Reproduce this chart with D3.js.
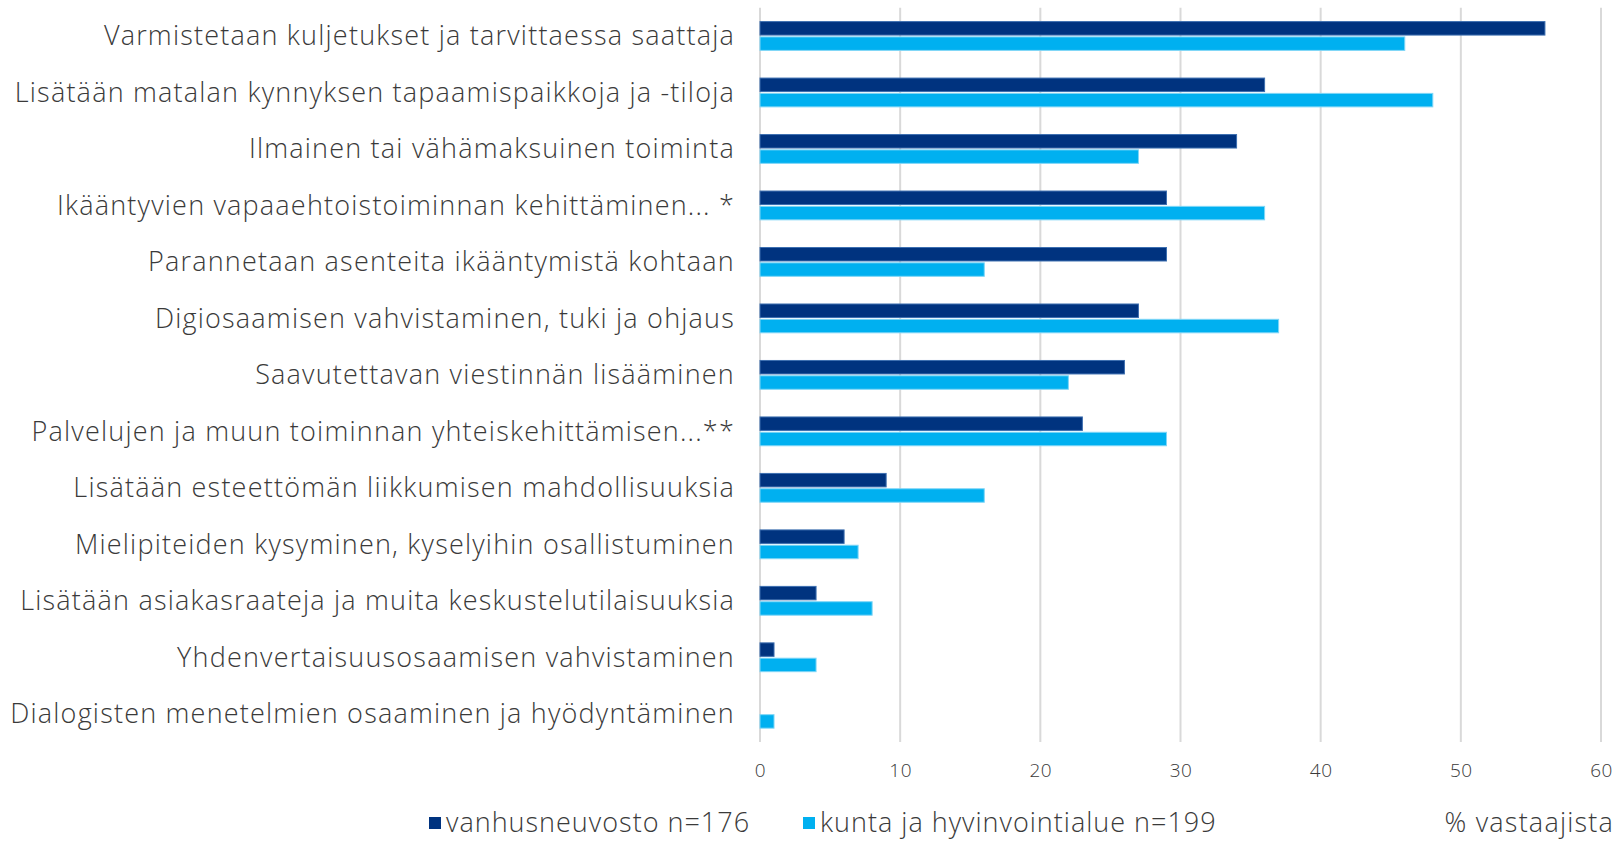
<!DOCTYPE html>
<html>
<head>
<meta charset="utf-8">
<script src="https://cdn.jsdelivr.net/npm/d3@7"></script>
<style>
  body { margin: 0; background: #fff; }
  svg text { font-family: "Open Sans", sans-serif; font-weight: 300; fill: #3a3a3a; }
</style>
</head>
<body>
<svg width="1616" height="842"></svg>
<script>
// kategoriat ylhäältä alas
var categories = [
  "Varmistetaan kuljetukset ja tarvittaessa saattaja",
  "Lisätään matalan kynnyksen tapaamispaikkoja ja -tiloja",
  "Ilmainen tai vähämaksuinen toiminta",
  "Ikääntyvien vapaaehtoistoiminnan kehittäminen... *",
  "Parannetaan asenteita ikääntymistä kohtaan",
  "Digiosaamisen vahvistaminen, tuki ja ohjaus",
  "Saavutettavan viestinnän lisääminen",
  "Palvelujen ja muun toiminnan yhteiskehittämisen...**",
  "Lisätään esteettömän liikkumisen mahdollisuuksia",
  "Mielipiteiden kysyminen, kyselyihin osallistuminen",
  "Lisätään asiakasraateja ja muita keskustelutilaisuuksia",
  "Yhdenvertaisuusosaamisen vahvistaminen",
  "Dialogisten menetelmien osaaminen ja hyödyntäminen"
];
var vanhusneuvosto = [56, 36, 34, 29, 29, 27, 26, 23, 9, 6, 4, 1, 0];
var kunta = [46, 48, 27, 36, 16, 37, 22, 29, 16, 7, 8, 4, 1];
var seriesNames = ["vanhusneuvosto n=176", "kunta ja hyvinvointialue n=199"];
var xTicks = [0, 10, 20, 30, 40, 50, 60];

var colors = ["#00337f", "#00b0f0"];
var strokes = ["#3d6fb0", "#7fd6f7"];

var svg = d3.select("svg");

var x = d3.scaleLinear().domain([0, 60]).range([760, 1601]);
var y = d3.scaleBand().domain(categories).range([7.75, 742])
    .paddingInner(0.49).paddingOuter(0.245);
var ySub = d3.scaleBand().domain([0, 1]).range([0, y.bandwidth()]).paddingInner(0.12);

// gridlines
svg.append("g")
    .selectAll("line")
    .data(xTicks)
    .enter().append("line")
    .attr("x1", d => x(d)).attr("x2", d => x(d))
    .attr("y1", 7.75).attr("y2", 742)
    .attr("stroke", "#d9d9d9")
    .attr("stroke-width", 2);

// x axis labels
var xAxis = d3.axisBottom(x).tickValues(xTicks).tickSize(0).tickPadding(0);
var gx = svg.append("g")
    .attr("transform", "translate(0,763)")
    .call(xAxis);
gx.select(".domain").remove();
gx.selectAll("text")
    .style("font-family", "\"Open Sans\", sans-serif")
    .style("font-size", "19px")
    .style("font-weight", 300)
    .style("letter-spacing", "0.5px")
    .attr("fill", "#3a3a3a");

// category labels
svg.append("g")
    .selectAll("text")
    .data(categories)
    .enter().append("text")
    .attr("x", 735)
    .attr("y", d => y(d) + y.bandwidth() / 2)
    .attr("dy", "0.35em")
    .attr("text-anchor", "end")
    .style("font-size", "27px")
    .style("letter-spacing", "1.2px")
    .text(d => d);

// bars
var series = [vanhusneuvosto, kunta];
var groups = svg.append("g")
    .selectAll("g")
    .data(categories)
    .enter().append("g")
    .attr("transform", d => "translate(0," + y(d) + ")");

groups.selectAll("rect")
    .data((d, i) => series.map((s, k) => ({ k: k, v: s[i] })))
    .enter().append("rect")
    .attr("x", x(0))
    .attr("y", d => ySub(d.k))
    .attr("width", d => Math.max(0, x(d.v) - x(0)))
    .attr("height", ySub.bandwidth())
    .attr("fill", d => colors[d.k])
    .attr("stroke", d => d.v > 0 ? strokes[d.k] : "none")
    .attr("stroke-width", 1);

// legend
var legendX = [429, 803];
var legendY = 823;
var legend = svg.append("g");
seriesNames.forEach(function (name, k) {
  legend.append("rect")
      .attr("x", legendX[k]).attr("y", legendY - 6)
      .attr("width", 12).attr("height", 12)
      .attr("fill", colors[k]);
  legend.append("text")
      .attr("x", legendX[k] + 17).attr("y", legendY)
      .attr("dy", "0.35em")
      .style("font-size", "27px")
      .style("letter-spacing", "1px")
      .text(name);
});
legend.append("text")
    .attr("x", 1614).attr("y", legendY)
    .attr("dy", "0.35em")
    .attr("text-anchor", "end")
    .style("font-size", "27px")
    .style("letter-spacing", "1.2px")
    .text("% vastaajista");
</script>
</body>
</html>
